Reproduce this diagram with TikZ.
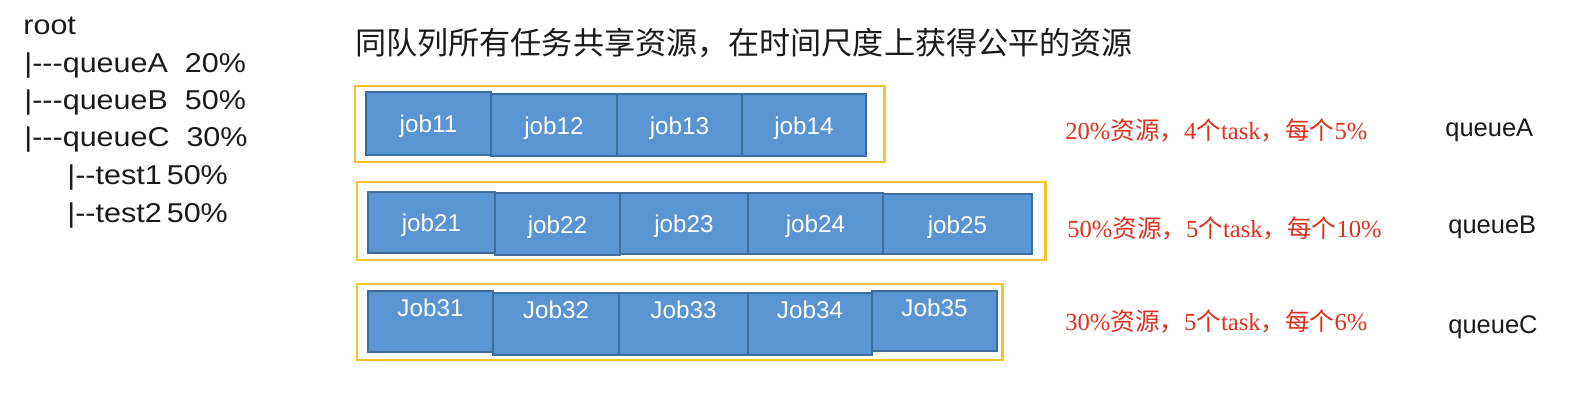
\documentclass[tikz,border=0pt]{standalone}
\usepackage{fontspec}
\setmainfont{Liberation Sans}
\newfontfamily\cjk{Noto Sans CJK SC}
\newfontfamily\tms{Liberation Serif}
\usepackage{tikz}
\usetikzlibrary{fit, positioning}
\definecolor{colJobFill}{HTML}{5895D2}
\definecolor{colJobLine}{HTML}{3D6E9F}
\definecolor{colQueue}  {HTML}{F5C232}
\definecolor{colNote}   {HTML}{E0301E}
\definecolor{colInk}    {HTML}{1A1A1A}
\tikzset{
  job/.style={
    draw=colJobLine, fill=colJobFill, line width=1pt, inner sep=0pt
  },
  jobtext/.style={inner sep=0pt, text=white, yshift=-0.06cm,
    font=\fontsize{13.8}{15}\selectfont},
  jobtop/.style={jobtext, anchor=north, yshift=-0.1cm},
  queue/.style={draw=colQueue, fill=white, line width=1.7pt, inner sep=0pt},
  tree/.style={anchor=base west, inner sep=0pt, text=colInk,
    xscale=1.12, transform shape, font=\fontsize{15.5}{17}\selectfont},
  note/.style={anchor=base west, inner sep=0pt, text=colNote,
    font=\fontsize{14}{16}\selectfont},
  qname/.style={anchor=base west, inner sep=0pt, text=colInk,
    font=\fontsize{14.5}{16}\selectfont}
}
% red share note: total, tasks, per task
\newcommand{\shareline}[3]{{\tms #1\%}{\cjk 资源，}{\tms #2}{\cjk 个}{\tms task}{\cjk ，每个}{\tms #3\%}}

\begin{document}
\begin{tikzpicture}[x=0.02cm, y=-0.02cm]
  \useasboundingbox (0,0) rectangle (1573,412);

  % queue tree
  \node[tree] (root) at (23,35)  {root};
  \node[tree] (ta)   at (24,73)  {|-{}-{}-queueA\ \ 20\%};
  \node[tree] (tb)   at (24,110) {|-{}-{}-queueB\ \ 50\%};
  \node[tree] (tc)   at (24,147) {|-{}-{}-queueC\ \ 30\%};
  \node[tree] (t1)   at (67,185) {|-{}-test1\,50\%};
  \node[tree] (t2)   at (67,222) {|-{}-test2\,50\%};

  \node[anchor=west, inner sep=0pt, text=colInk,
        font=\cjk\fontsize{17.7}{20}\selectfont] (title) at (355,43)
        {同队列所有任务共享资源，在时间尺度上获得公平的资源};

  % queueA
  \node[queue, fit={(355,86) (884,162)}] (qa) {};
  \node[job, fit={(366,92) (491,155)}, label={[jobtext]center:job11}]  (j11) {};
  \node[job, fit={(491,94) (617,156)}, label={[jobtext]center:job12}]  (j12) {};
  \node[job, fit={(617,94) (742,156)}, label={[jobtext]center:job13}]  (j13) {};
  \node[job, fit={(742,94) (866,156)}, label={[jobtext]center:job14}]  (j14) {};

  % queueB
  \node[queue, fit={(357,182) (1045,260)}] (qb) {};
  \node[job, fit={(368,192) (495,253)}, label={[jobtext]center:job21}]  (j21) {};
  \node[job, fit={(495,193) (620,255)}, label={[jobtext]center:job22}]  (j22) {};
  \node[job, fit={(620,193) (748,254)}, label={[jobtext]center:job23}]  (j23) {};
  \node[job, fit={(748,193) (883,254)}, label={[jobtext]center:job24}]  (j24) {};
  \node[job, fit={(883,194) (1032,254)}, label={[jobtext]center:job25}] (j25) {};

  % queueC
  \node[queue, fit={(357,284) (1002,360)}] (qc) {};
  \node[job, fit={(368,291) (493,352)}, label={[jobtop]north:Job31}] (j31) {};
  \node[job, fit={(493,293) (619,355)}, label={[jobtop]north:Job32}] (j32) {};
  \node[job, fit={(619,293) (748,355)}, label={[jobtop]north:Job33}] (j33) {};
  \node[job, fit={(748,293) (872,355)}, label={[jobtop]north:Job34}] (j34) {};
  \node[job, fit={(872,291) (997,351)}, label={[jobtop]north:Job35}] (j35) {};

  % shares
  \node[note] (na) at (1065,140) {\shareline{20}{4}{5}};
  \node[note] (nb) at (1067,237) {\shareline{50}{5}{10}};
  \node[note] (nc) at (1065,330) {\shareline{30}{5}{6}};

  \node[qname] (la) at (1445,137) {queueA};
  \node[qname] (lb) at (1448,234) {queueB};
  \node[qname] (lc) at (1448,333) {queueC};
\end{tikzpicture}
\end{document}
